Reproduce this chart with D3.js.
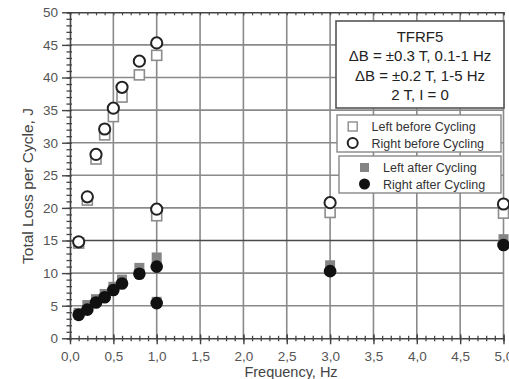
<!DOCTYPE html>
<html>
<head>
<meta charset="utf-8">
<script src="https://cdn.jsdelivr.net/npm/d3@7"></script>
<style>
  html, body { margin: 0; padding: 0; background: #fff; }
  svg { display: block; font-family: "Liberation Sans", Arial, sans-serif; }
</style>
</head>
<body>
<svg id="chart" width="509" height="379"></svg>
<script>
// Total loss per cycle vs. frequency, TFRF5 coil, before and after cycling
const freq        = [0.1, 0.2, 0.3, 0.4, 0.5, 0.6, 0.8, 1.0, 1.0, 3.0, 5.0];
const leftBefore  = [14.6, 21.2, 27.5, 31.2, 34.0, 37.0, 40.4, 43.4, 18.8, 19.3, 19.2];
const rightBefore = [14.8, 21.7, 28.2, 32.1, 35.3, 38.5, 42.5, 45.3, 19.8, 20.8, 20.6];
const leftAfter   = [3.9, 5.1, 6.0, 6.8, 7.9, 9.0, 10.8, 12.4, 5.6, 11.2, 15.2];
const rightAfter  = [3.6, 4.4, 5.5, 6.3, 7.4, 8.4, 9.9, 11.0, 5.4, 10.3, 14.3];

const xTicks = [0, 0.5, 1.0, 1.5, 2.0, 2.5, 3.0, 3.5, 4.0, 4.5, 5.0];
const yTicks = [0, 5, 10, 15, 20, 25, 30, 35, 40, 45, 50];
const infoLines = ["TFRF5", "\u0394B = \u00b10.3 T, 0.1-1 Hz", "\u0394B = \u00b10.2 T, 1-5 Hz", "2 T, I = 0"];
const legendBefore = ["Left before Cycling", "Right before Cycling"];
const legendAfter  = ["Left after Cycling", "Right after Cycling"];

const svg = d3.select("#chart");
const m = { left: 70, top: 12.3, right: 503.5, bottom: 338.3 };

const x = d3.scaleLinear().domain([0, 5]).range([m.left, m.right]);
const y = d3.scaleLinear().domain([0, 50]).range([m.bottom, m.top]);

const minorX = d3.range(0, 51).map(d => d / 10);
const minorY = d3.range(0, 51);
const fmtX = d => d3.format(".1f")(d).replace(".", ",");

// grid
const grid = svg.append("g");
grid.selectAll("line.v").data(xTicks.slice(1)).join("line")
  .attr("x1", d => x(d)).attr("x2", d => x(d))
  .attr("y1", y(0)).attr("y2", y(50))
  .attr("stroke", "#8a8a8a").attr("stroke-width", 1.6);
grid.selectAll("line.h").data(yTicks.slice(1, -1)).join("line")
  .attr("x1", x(0)).attr("x2", x(5))
  .attr("y1", d => y(d)).attr("y2", d => y(d))
  .attr("stroke", d => d === 15 ? "#4a4a4a" : "#8a8a8a")
  .attr("stroke-width", 1.6);

// top border with inward minor ticks
const topAxis = svg.append("g").attr("transform", `translate(0,${y(50)})`)
  .call(d3.axisTop(x).tickValues(minorX).tickSize(-3).tickFormat(""));
topAxis.select(".domain").attr("stroke", "#444").attr("stroke-width", 1.4);
topAxis.selectAll(".tick line").attr("stroke", "#444").attr("stroke-width", 1.2);

// bottom axis: crossing minor ticks, labelled majors
const xMinor = svg.append("g").attr("transform", `translate(0,${y(0)})`)
  .call(d3.axisBottom(x).tickValues(minorX).tickSize(3).tickFormat(""));
xMinor.select(".domain").attr("stroke", "#444").attr("stroke-width", 1.4);
xMinor.selectAll(".tick line").attr("y1", -2.5).attr("y2", 3).attr("stroke", "#444").attr("stroke-width", 1.3);

const xAxis = svg.append("g").attr("transform", `translate(0,${y(0)})`)
  .call(d3.axisBottom(x).tickValues(xTicks).tickSize(6).tickPadding(7).tickFormat(fmtX));
xAxis.select(".domain").remove();
xAxis.selectAll(".tick line").attr("y1", -4).attr("stroke", "#444").attr("stroke-width", 1.4);
xAxis.selectAll(".tick text").attr("font-size", 13.5).attr("fill", "#555")
  .attr("font-family", "Liberation Sans, Arial, sans-serif");

// left axis
const yMinor = svg.append("g").attr("transform", `translate(${x(0)},0)`)
  .call(d3.axisLeft(y).tickValues(minorY).tickSize(3).tickFormat(""));
yMinor.select(".domain").attr("stroke", "#444").attr("stroke-width", 1.6);
yMinor.selectAll(".tick line").attr("x2", -3.5).attr("x1", 2).attr("stroke", "#444").attr("stroke-width", 1.3);

const yAxis = svg.append("g").attr("transform", `translate(${x(0)},0)`)
  .call(d3.axisLeft(y).tickValues(yTicks).tickSize(8).tickPadding(4).tickFormat(d3.format("d")));
yAxis.select(".domain").remove();
yAxis.selectAll(".tick line").attr("stroke", "#444").attr("stroke-width", 1.4);
yAxis.selectAll(".tick text").attr("font-size", 13.5).attr("fill", "#555")
  .attr("font-family", "Liberation Sans, Arial, sans-serif");

// axis titles
svg.append("text").attr("x", 291).attr("y", 377).attr("text-anchor", "middle")
  .attr("font-size", 14.5).attr("fill", "#444").text("Frequency, Hz");
svg.append("text").attr("transform", "translate(33,186) rotate(-90)")
  .attr("text-anchor", "middle").attr("font-size", 15.5).attr("fill", "#444")
  .text("Total Loss per Cycle, J");

// markers
const pts = arr => arr.map((v, i) => ({ f: freq[i], v }));
const sq = 10;
svg.append("g").selectAll("rect").data(pts(leftBefore)).join("rect")
  .attr("x", d => x(d.f) - sq / 2).attr("y", d => y(d.v) - sq / 2)
  .attr("width", sq).attr("height", sq)
  .attr("fill", "#fff").attr("stroke", "#8c8c8c").attr("stroke-width", 1.6);
svg.append("g").selectAll("circle").data(pts(rightBefore)).join("circle")
  .attr("cx", d => x(d.f)).attr("cy", d => y(d.v)).attr("r", 5.6)
  .attr("fill", "#fff").attr("stroke", "#222").attr("stroke-width", 2);
svg.append("g").selectAll("rect").data(pts(leftAfter)).join("rect")
  .attr("x", d => x(d.f) - sq / 2).attr("y", d => y(d.v) - sq / 2)
  .attr("width", sq).attr("height", sq).attr("fill", "#858585");
svg.append("g").selectAll("circle").data(pts(rightAfter)).join("circle")
  .attr("cx", d => x(d.f)).attr("cy", d => y(d.v)).attr("r", 6.3)
  .attr("fill", "#111");

// info box
const info = svg.append("g");
info.append("rect").attr("x", 336).attr("y", 21).attr("width", 168).attr("height", 87)
  .attr("fill", "#fff").attr("stroke", "#555").attr("stroke-width", 1.6);
info.selectAll("text").data(infoLines).join("text")
  .attr("x", 420).attr("y", (d, i) => 41.5 + i * 19.6)
  .attr("text-anchor", "middle").attr("font-size", 15).attr("fill", "#222").text(d => d);

// legend boxes
function legendBox(x0, y0, w, mx, tx, labels, draw) {
  const g = svg.append("g");
  g.append("rect").attr("x", x0).attr("y", y0).attr("width", w).attr("height", 37)
    .attr("fill", "#fff").attr("stroke", "#888").attr("stroke-width", 1.4);
  labels.forEach((t, i) => {
    const cy = y0 + 11.5 + i * 16.5;
    draw(g, i, mx, cy);
    g.append("text").attr("x", tx).attr("y", cy + 4.5).attr("font-size", 12.5)
      .attr("fill", "#333").text(t);
  });
}
legendBox(337, 115, 164, 352.7, 371.5, legendBefore, (g, i, cx, cy) => {
  if (i === 0) g.append("rect").attr("x", cx - 4.5).attr("y", cy - 4.5).attr("width", 9).attr("height", 9)
    .attr("fill", "#fff").attr("stroke", "#8c8c8c").attr("stroke-width", 1.4);
  else g.append("circle").attr("cx", cx).attr("cy", cy).attr("r", 5)
    .attr("fill", "#fff").attr("stroke", "#222").attr("stroke-width", 2);
});
legendBox(339, 156, 162, 364.5, 383, legendAfter, (g, i, cx, cy) => {
  if (i === 0) g.append("rect").attr("x", cx - 4.5).attr("y", cy - 4.5).attr("width", 9).attr("height", 9)
    .attr("fill", "#858585");
  else g.append("circle").attr("cx", cx).attr("cy", cy).attr("r", 5.5).attr("fill", "#111");
});
</script>
</body>
</html>
